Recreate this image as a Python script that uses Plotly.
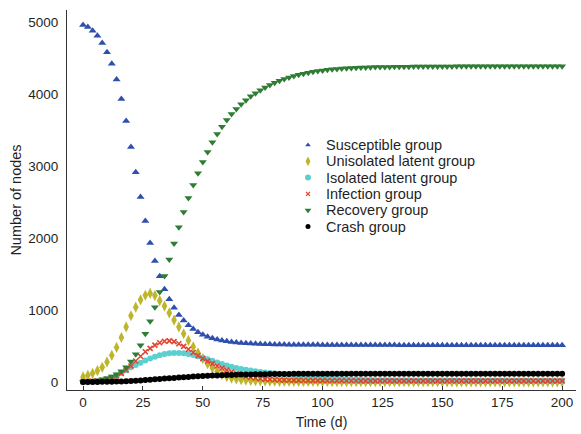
import plotly.graph_objects as go

# Time in days, sampled every 2 days
time_d = list(range(0, 201, 2))

susceptible = [
    4960, 4930, 4880, 4810, 4710, 4580, 4420, 4200, 3930, 3625,
    3265, 2915, 2570, 2235, 1930, 1680, 1470, 1290, 1150, 1030,
    930, 855, 790, 735, 690, 655, 630, 608, 590, 576,
    565, 556, 549, 543, 538, 534, 531, 528, 526, 524,
    522, 521, 520, 519, 518, 518, 517, 517, 516, 516,
    515, 515, 515, 514, 514, 514, 514, 514, 513, 513,
    513, 513, 513, 513, 513, 513, 512, 512, 512, 512,
    512, 512, 512, 512, 512, 512, 512, 512, 512, 512,
    512, 512, 512, 512, 512, 512, 512, 512, 512, 512,
    512, 512, 512, 512, 512, 512, 512, 512, 512, 512,
    512,
]

unisolated_latent = [
    70, 93, 120, 157, 204, 278, 370, 481, 618, 765,
    920, 1040, 1142, 1205, 1230, 1200, 1130, 1055, 960, 860,
    765, 670, 578, 490, 405, 325, 255, 195, 145, 105,
    75, 55, 42, 33, 27, 22, 19, 16, 14, 12,
    11, 10, 10, 9, 9, 8, 8, 8, 7, 7,
    7, 7, 6, 6, 6, 6, 6, 5, 5, 5,
    5, 5, 5, 5, 5, 4, 4, 4, 4, 4,
    4, 4, 4, 4, 4, 4, 3, 3, 3, 3,
    3, 3, 3, 3, 3, 3, 3, 3, 3, 3,
    3, 3, 3, 3, 3, 3, 3, 3, 3, 3,
    3,
]

isolated_latent = [
    0, 3, 8, 15, 26, 40, 62, 92, 128, 167,
    204, 236, 268, 298, 328, 352, 372, 388, 398, 404,
    404, 398, 390, 376, 358, 338, 316, 294, 272, 250,
    230, 212, 196, 182, 170, 160, 150, 140, 132, 125,
    120, 115, 110, 105, 99, 92, 85, 78, 71, 65,
    59, 54, 49, 45, 41, 38, 35, 33, 31, 29,
    27, 26, 25, 24, 23, 22, 21, 20, 20, 19,
    19, 18, 18, 17, 17, 17, 16, 16, 16, 15,
    15, 15, 15, 14, 14, 14, 14, 14, 13, 13,
    13, 13, 13, 13, 12, 12, 12, 12, 12, 12,
    12,
]

infection = [
    5, 8, 12, 18, 28, 42, 60, 85, 120, 165,
    222, 292, 358, 420, 468, 512, 545, 566, 572, 560,
    532, 495, 455, 410, 365, 325, 290, 255, 222, 192,
    165, 140, 118, 98, 80, 66, 55, 46, 40, 35,
    31, 28, 26, 24, 23, 22, 21, 20, 20, 19,
    19, 18, 18, 18, 17, 17, 17, 17, 16, 16,
    16, 16, 16, 16, 15, 15, 15, 15, 15, 15,
    15, 15, 15, 15, 15, 15, 15, 15, 15, 15,
    15, 15, 15, 15, 15, 15, 15, 15, 15, 15,
    15, 15, 15, 15, 15, 15, 15, 15, 15, 15,
    15,
]

recovery = [
    0, 5, 12, 22, 35, 52, 75, 108, 150, 205,
    285, 385, 510, 670, 845, 1040, 1250, 1472, 1700, 1925,
    2150, 2360, 2555, 2735, 2900, 3055, 3195, 3330, 3444, 3546,
    3639, 3722, 3792, 3858, 3915, 3968, 4012, 4054, 4091, 4124,
    4155, 4183, 4208, 4230, 4250, 4268, 4283, 4297, 4309, 4319,
    4328, 4336, 4343, 4349, 4354, 4358, 4362, 4365, 4368, 4370,
    4372, 4374, 4375, 4376, 4377, 4378, 4379, 4380, 4380, 4381,
    4381, 4382, 4382, 4382, 4383, 4383, 4383, 4383, 4384, 4384,
    4384, 4384, 4384, 4384, 4385, 4385, 4385, 4385, 4385, 4385,
    4385, 4385, 4385, 4385, 4385, 4385, 4385, 4385, 4385, 4385,
    4385,
]

crash = [
    0, 0, 1, 1, 2, 3, 4, 6, 8, 11,
    14, 18, 22, 27, 32, 37, 42, 47, 52, 57,
    62, 67, 71, 75, 79, 83, 86, 89, 92, 95,
    97, 99, 101, 103, 105, 106, 107, 108, 109, 110,
    111, 111, 112, 112, 113, 113, 113, 114, 114, 114,
    114, 115, 115, 115, 115, 115, 115, 115, 116, 116,
    116, 116, 116, 116, 116, 116, 116, 116, 116, 116,
    116, 116, 116, 116, 116, 116, 116, 116, 116, 116,
    116, 116, 116, 116, 116, 116, 116, 116, 116, 116,
    116, 116, 116, 116, 116, 116, 116, 116, 116, 116,
    116,
]

x_ticks = [0, 25, 50, 75, 100, 125, 150, 175, 200]
y_ticks = [0, 1000, 2000, 3000, 4000, 5000]

# name, values, marker symbol, colour, plot size, legend-key size
series = [
    ("Susceptible group", susceptible, "triangle-up", "#2f4fae", 7, 5),
    ("Unisolated latent group", unisolated_latent, "diamond-tall", "#bdb52c", 8, 7),
    ("Isolated latent group", isolated_latent, "circle", "#5ccfcf", 6, 6),
    ("Infection group", infection, "x-thin-open", "#e0442e", 5, 4),
    ("Recovery group", recovery, "triangle-down", "#2f7d34", 7, 6),
    ("Crash group", crash, "circle", "#000000", 6, 5),
]

W, H = 581, 434
M_L, M_R, M_T, M_B = 67, 5, 10, 44
PLOT_W, PLOT_H = W - M_L - M_R, H - M_T - M_B

font_family = "Liberation Sans, Arial, sans-serif"
text_color = "#1f1f1f"


def marker_style(symbol, color, size):
    m = dict(symbol=symbol, color=color, size=size, line=dict(width=0))
    if symbol == "x-thin-open":
        m["line"] = dict(width=1.6, color=color)
    return m


fig = go.Figure()
for name, values, symbol, color, size, _ in series:
    fig.add_trace(go.Scatter(
        x=time_d, y=values, mode="markers", name=name,
        marker=marker_style(symbol, color, size), showlegend=False,
    ))

# Legend block laid out on an overlay axis measured in plot-area pixels
LEG_KEY_X = 241      # key centre, px from plot left
LEG_TEXT_X = 257     # text start, px from plot left
LEG_TOP_Y = 245      # first row centre, px from plot bottom
LEG_ROW = 16.3       # row pitch, px
annotations = []
for i, (name, _, symbol, color, _, key_size) in enumerate(series):
    row_y = LEG_TOP_Y - i * LEG_ROW
    key = marker_style(symbol, color, key_size)
    if symbol == "x-thin-open":
        key["line"]["width"] = 1.3
    fig.add_trace(go.Scatter(
        x=[LEG_KEY_X], y=[row_y], xaxis="x2", yaxis="y2", mode="markers",
        marker=key, showlegend=False, hoverinfo="skip",
    ))
    annotations.append(dict(
        x=LEG_TEXT_X, y=row_y, xref="x2", yref="y2", text=name,
        showarrow=False, xanchor="left", yanchor="middle",
        font=dict(family=font_family, size=14.5, color=text_color),
    ))

fig.update_layout(
    width=W, height=H,
    margin=dict(l=M_L, r=M_R, t=M_T, b=M_B),
    paper_bgcolor="white", plot_bgcolor="white",
    font=dict(family=font_family, size=13.5, color=text_color),
    showlegend=False,
    annotations=annotations,
    xaxis=dict(
        range=[-6.7, 205.8], tickmode="array", tickvals=x_ticks,
        showgrid=False, zeroline=False, showline=True,
        linecolor="#333333", linewidth=1,
        ticks="inside", ticklen=4, tickcolor="#333333",
        title=dict(text="Time (d)", standoff=7,
                   font=dict(family=font_family, size=14, color=text_color)),
    ),
    yaxis=dict(
        range=[-111, 5167], tickmode="array", tickvals=y_ticks,
        showgrid=False, zeroline=False, showline=True,
        linecolor="#333333", linewidth=1,
        ticks="", ticklabelstandoff=5,
        title=dict(text="Number of nodes", standoff=3,
                   font=dict(family=font_family, size=14.5, color=text_color)),
    ),
    xaxis2=dict(range=[0, PLOT_W], overlaying="x", visible=False, fixedrange=True),
    yaxis2=dict(range=[0, PLOT_H], overlaying="y", visible=False, fixedrange=True),
)

fig.write_html("out.html")
